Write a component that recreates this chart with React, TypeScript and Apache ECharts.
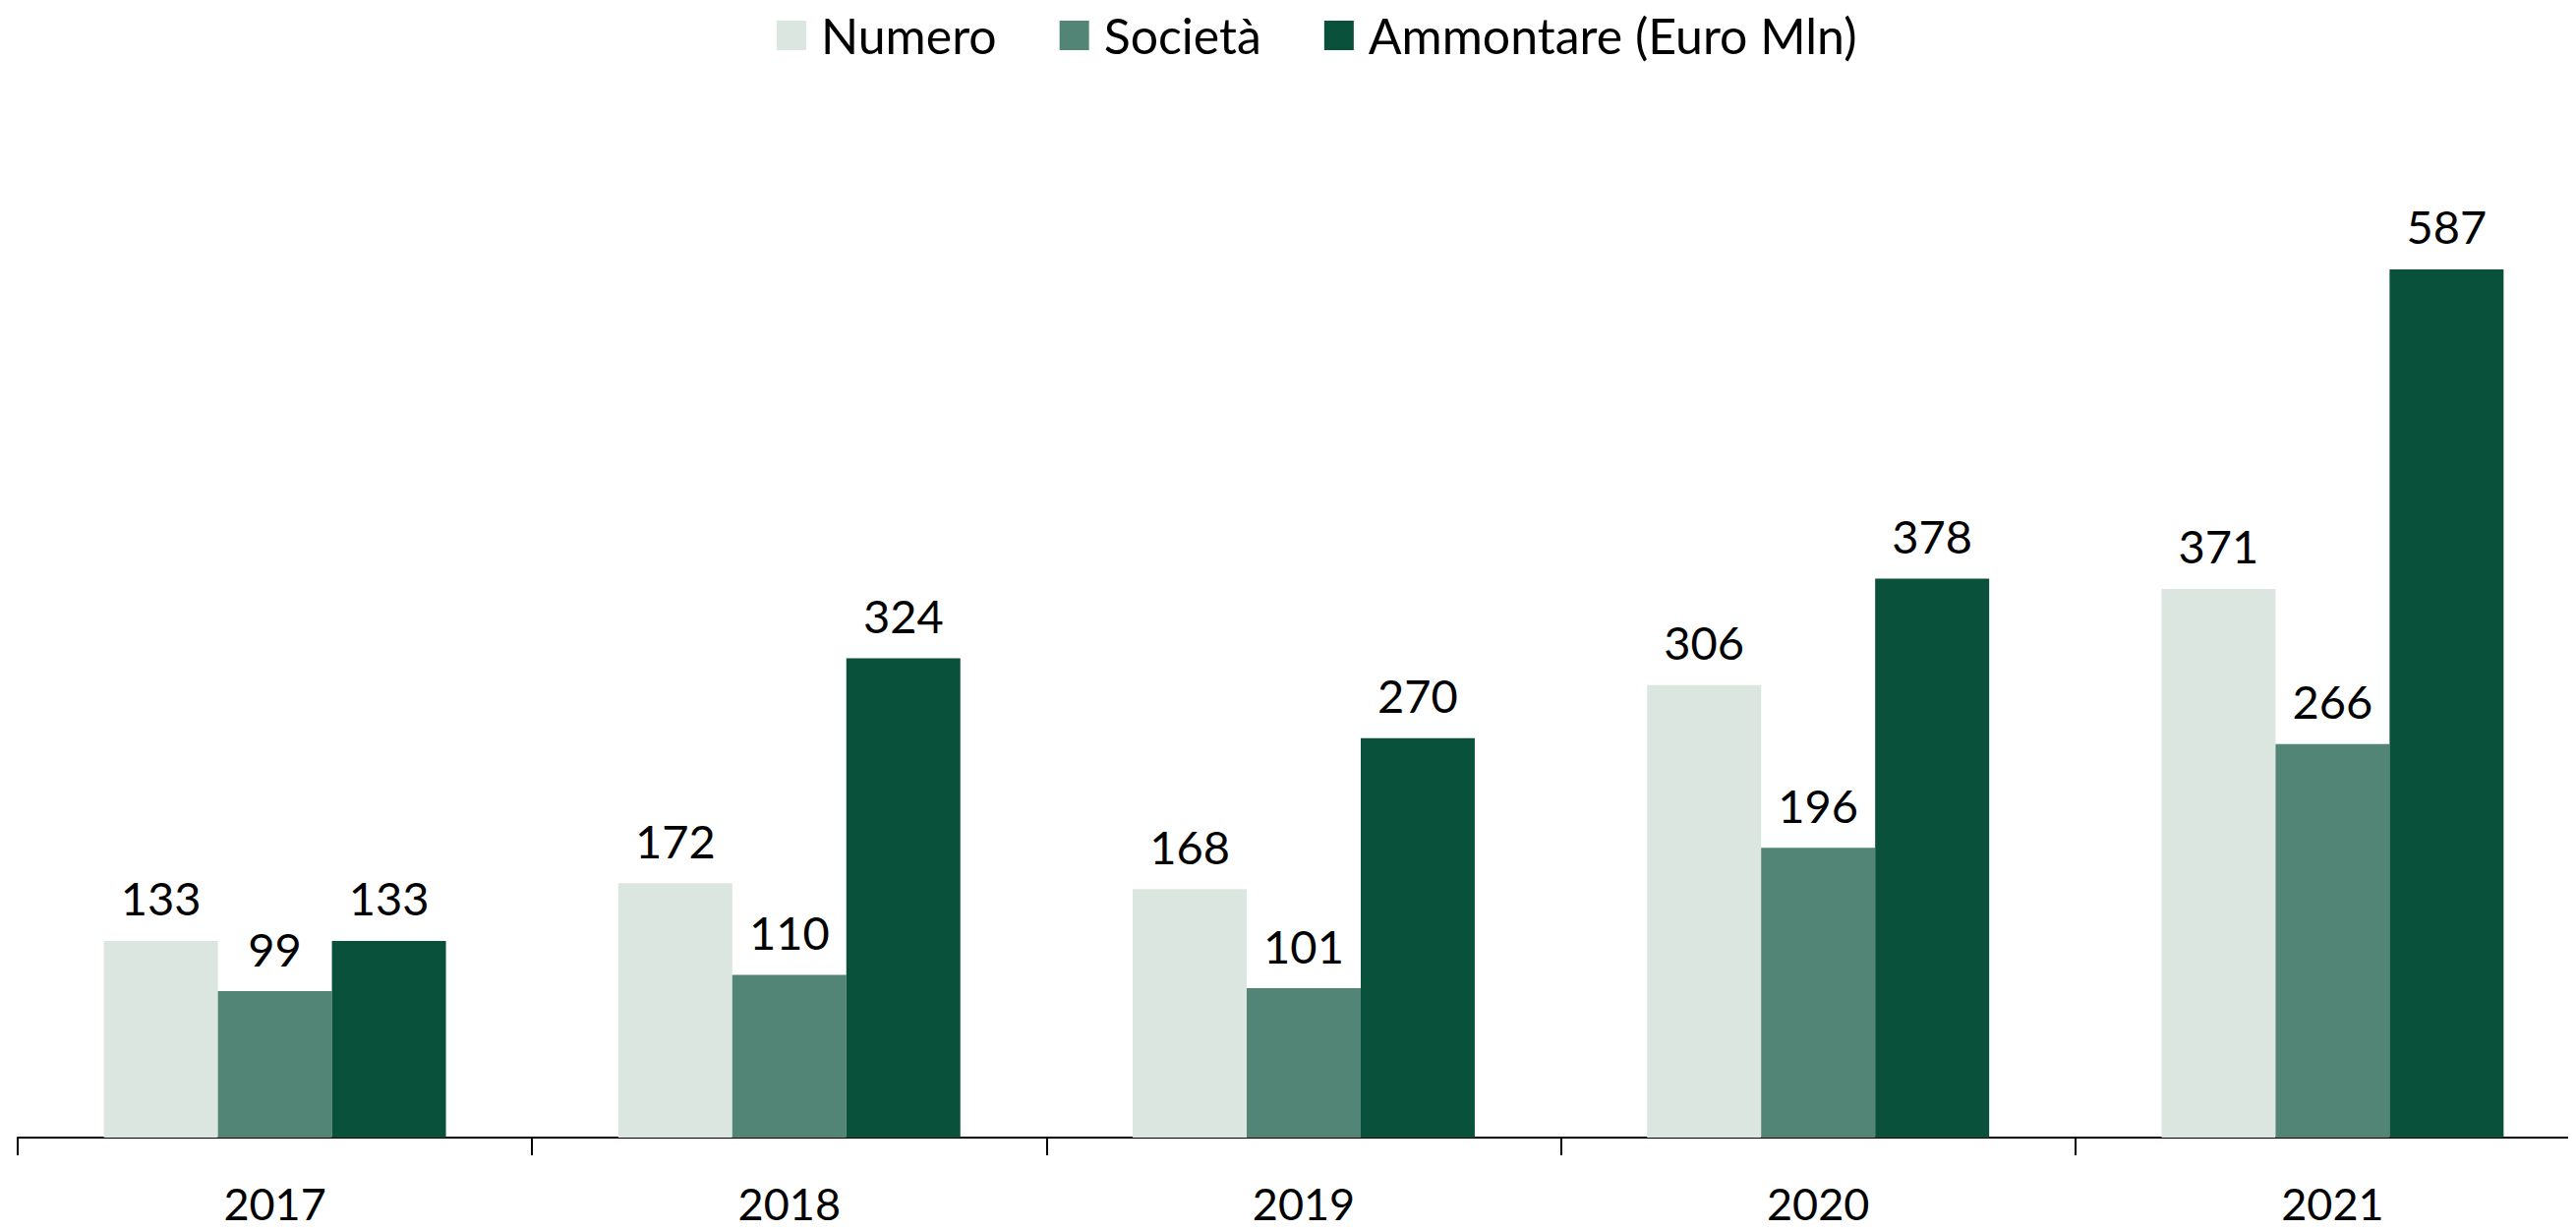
import React, { useEffect, useRef } from "react";
import * as echarts from "echarts";

const categories = ["2017", "2018", "2019", "2020", "2021"];
const numero = [133, 172, 168, 306, 371];
const societa = [99, 110, 101, 196, 266];
const ammontare = [133, 324, 270, 378, 587];
const seriesNames = ["Numero", "Società", "Ammontare (Euro Mln)"];
const colors = ["#DCE6E1", "#528576", "#0A513C"];

const FONT = "Lato, 'Noto Sans', sans-serif";

export default function App() {
  const ref = useRef<HTMLDivElement>(null);
  useEffect(() => {
    if (!ref.current) return;
    const chart = echarts.init(ref.current, null, { renderer: "svg" });
    const data = [numero, societa, ammontare];
    chart.setOption({
      animation: false,
      backgroundColor: "#ffffff",
      textStyle: { fontFamily: FONT },
      legend: {
        top: 6,
        left: 785,
        itemWidth: 30,
        itemHeight: 30,
        itemGap: 64,
        icon: "rect",
        textStyle: { fontSize: 50, color: "#000", fontFamily: FONT, padding: [0, 0, 0, 10] },
        data: seriesNames,
      },
      grid: {
        left: 18,
        right: -14,
        top: 104,
        bottom: 95,
        containLabel: false,
        outerBoundsMode: "none",
      },
      xAxis: {
        type: "category",
        data: categories,
        axisLine: { lineStyle: { color: "#000", width: 2 } },
        axisTick: { show: true, length: 18, lineStyle: { color: "#000", width: 2 } },
        axisLabel: { fontSize: 45, color: "#000", margin: 44, fontFamily: FONT, lineHeight: 45 },
      },
      yAxis: {
        type: "value",
        min: 0,
        max: 700,
        show: false,
        splitLine: { show: false },
      },
      series: data.map((d, i) => ({
        name: seriesNames[i],
        type: "bar",
        data: d,
        barGap: "0%",
        barCategoryGap: "33.5%",
        itemStyle: { color: colors[i] },
        label: {
          show: true,
          position: "top",
          distance: 20,
          fontSize: 47,
          color: "#000",
          fontFamily: FONT,
        },
      })),
    });
    return () => chart.dispose();
  }, []);
  return <div ref={ref} style={{ width: 2620, height: 1252, margin: -8 }} />;
}
